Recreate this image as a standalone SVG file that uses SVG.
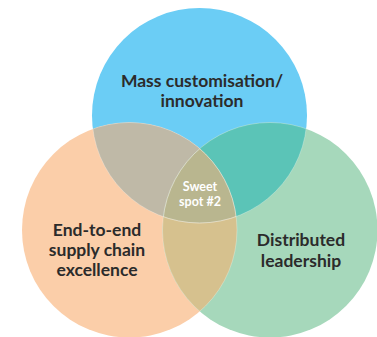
<svg xmlns="http://www.w3.org/2000/svg" width="377" height="337" viewBox="0 0 377 337">
  <style>
    .lbl { font-family: Lato, "Open Sans", "Liberation Sans", sans-serif; font-weight: bold; font-size: 17.5px; fill: #2b2b2b; text-anchor: middle; }
    .sweet { font-family: Lato, "Open Sans", "Liberation Sans", sans-serif; font-weight: bold; font-size: 12.5px; fill: #ffffff; text-anchor: middle; }
    .edge { fill: none; stroke: #ffffff; stroke-opacity: 0.35; stroke-width: 0.8; }
  </style>
  <defs>
    <circle id="cBlue" cx="199.5" cy="115.5" r="107.5"/>
    <circle id="cOrange" cx="129.5" cy="230" r="107.5"/>
    <circle id="cGreen" cx="270" cy="230" r="107.5"/>
    <clipPath id="clipBlue"><use href="#cBlue"/></clipPath>
    <clipPath id="clipOrange"><use href="#cOrange"/></clipPath>
    <clipPath id="clipGreen"><use href="#cGreen"/></clipPath>
  </defs>
  <rect width="377" height="337" fill="#ffffff"/>

  <!-- base circles -->
  <g id="circle-blue"><use href="#cBlue" fill="#6bcdf5"/></g>
  <g id="circle-orange"><use href="#cOrange" fill="#fbcea9"/></g>
  <g id="circle-green"><use href="#cGreen" fill="#a6d8bb"/></g>

  <!-- pairwise overlaps -->
  <g id="overlap-blue-orange" clip-path="url(#clipBlue)"><use href="#cOrange" fill="#bfb9a7"/></g>
  <g id="overlap-blue-green" clip-path="url(#clipBlue)"><use href="#cGreen" fill="#5bc4b7"/></g>
  <g id="overlap-orange-green" clip-path="url(#clipOrange)"><use href="#cGreen" fill="#d6c18e"/></g>
  <!-- centre where all three meet -->
  <g id="sweet-spot" clip-path="url(#clipBlue)">
    <g clip-path="url(#clipOrange)"><use href="#cGreen" fill="#b9b68f"/></g>
  </g>

  <!-- faint boundaries inside the overlaps -->
  <g id="boundaries">
    <use href="#cBlue" class="edge" clip-path="url(#clipOrange)"/>
    <use href="#cBlue" class="edge" clip-path="url(#clipGreen)"/>
    <use href="#cOrange" class="edge" clip-path="url(#clipGreen)"/>
    <use href="#cOrange" class="edge" clip-path="url(#clipBlue)"/>
    <use href="#cGreen" class="edge" clip-path="url(#clipOrange)"/>
    <use href="#cGreen" class="edge" clip-path="url(#clipBlue)"/>
  </g>

  <!-- labels -->
  <g id="label-blue">
    <text class="lbl" x="202" y="87">Mass customisation/</text>
    <text class="lbl" x="202" y="107">innovation</text>
  </g>
  <g id="label-orange">
    <text class="lbl" x="97" y="236">End-to-end</text>
    <text class="lbl" x="97" y="256">supply chain</text>
    <text class="lbl" x="97" y="276">excellence</text>
  </g>
  <g id="label-green">
    <text class="lbl" x="301" y="246">Distributed</text>
    <text class="lbl" x="301" y="267">leadership</text>
  </g>
  <g id="label-sweet">
    <text class="sweet" x="200" y="191">Sweet</text>
    <text class="sweet" x="200" y="206">spot #2</text>
  </g>
</svg>
